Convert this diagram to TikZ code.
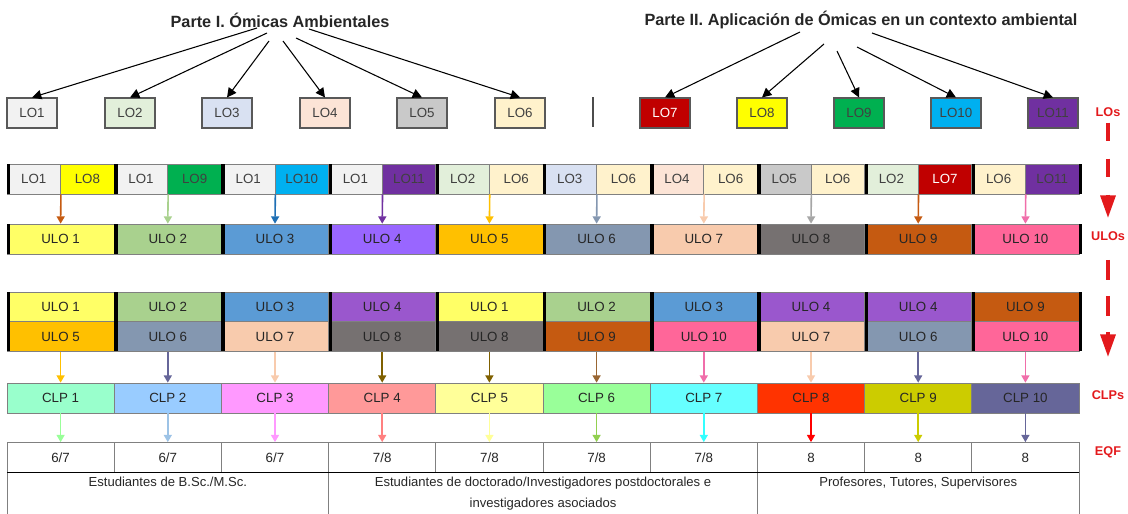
\documentclass[tikz,border=0pt]{standalone}
\usepackage{fontspec}
\setmainfont{Liberation Sans}
\usetikzlibrary{arrows.meta}

\definecolor{txt}{HTML}{404040}
\definecolor{tagred}{HTML}{E3191C}
\definecolor{LO1}{HTML}{F2F2F2}
\definecolor{LO2}{HTML}{E2EFDA}
\definecolor{LO3}{HTML}{D9E1F2}
\definecolor{LO4}{HTML}{FCE4D6}
\definecolor{LO5}{HTML}{C9C9C9}
\definecolor{LO6}{HTML}{FFF2CC}
\definecolor{LO7}{HTML}{C00000}
\definecolor{LO8}{HTML}{FFFF00}
\definecolor{LO9}{HTML}{00B050}
\definecolor{LO10}{HTML}{00B0F0}
\definecolor{LO11}{HTML}{7030A0}
\definecolor{U1}{HTML}{FFFF66}
\definecolor{U2}{HTML}{A9D18E}
\definecolor{U3}{HTML}{5B9BD5}
\definecolor{U4a}{HTML}{9966FF}
\definecolor{U4}{HTML}{9A57CD}
\definecolor{U5}{HTML}{FFC000}
\definecolor{U6}{HTML}{8497B0}
\definecolor{U7}{HTML}{F8CBAD}
\definecolor{U8}{HTML}{767171}
\definecolor{U9}{HTML}{C55A11}
\definecolor{U10}{HTML}{FF6699}
\definecolor{C1}{HTML}{99FFCC}
\definecolor{C2}{HTML}{99CCFF}
\definecolor{C3}{HTML}{FF99FF}
\definecolor{C4}{HTML}{FF9999}
\definecolor{C5}{HTML}{FFFF99}
\definecolor{C6}{HTML}{99FF99}
\definecolor{C7}{HTML}{66FFFF}
\definecolor{C8}{HTML}{FF3300}
\definecolor{C9}{HTML}{CCCC00}
\definecolor{C10}{HTML}{666699}
\definecolor{arBlue}{HTML}{1F6FB4}
\definecolor{arGray}{HTML}{A6A6A6}
\definecolor{arPink}{HTML}{F06EAA}
\definecolor{arOlive}{HTML}{7F6000}
\definecolor{arBrown}{HTML}{996633}
\definecolor{arSky}{HTML}{9DC3E6}
\definecolor{arSalmon}{HTML}{FF8080}
\definecolor{arLeaf}{HTML}{92D050}
\definecolor{arAqua}{HTML}{33FFFF}

\begin{document}
\begin{tikzpicture}[x=0.75pt,y=-0.75pt,
    title/.style={font=\fontsize{12.2}{14}\selectfont\bfseries, text=black!85},
    lobox/.style={draw=black!65, line width=0.8pt, minimum width=37.5pt, minimum height=22.5pt,
        inner sep=0pt, font=\fontsize{10}{12}\selectfont, text=txt},
    cell/.style={draw=black!50, line width=0.5pt, minimum height=22.5pt, inner sep=0pt,
        font=\fontsize{10}{12}\selectfont, text=black!85},
    half/.style={cell, minimum width=40.2pt, text=txt},
    full/.style={cell, minimum width=80.4pt},
    foot/.style={anchor=north, inner sep=0pt, align=center, font=\fontsize{9.8}{15.75}\selectfont, text=black!85},
    tag/.style={font=\fontsize{9.5}{11}\selectfont\bfseries, text=tagred},
    bar/.style={line width=2.6pt},
    toparr/.style={-{Triangle[length=7pt,width=7pt]}, line width=0.8pt},
    down/.style={-{Triangle[length=5.5pt,width=6pt]}, line width=1.2pt},
    flow/.style={color=tagred, line width=3pt, -{Triangle[length=17pt,width=11pt]}}]

\useasboundingbox (0,0) rectangle (1128,514);

\node[title] (p1) at (280,20) {Parte I. Ómicas Ambientales};
\node[title] (p2) at (861,20) {Parte II. Aplicación de Ómicas en un contexto ambiental};

\foreach \i/\x in {1/32,2/130,3/227,4/325,5/422,6/520,7/665,8/762,9/859,10/956,11/1053}
    \node[lobox, fill=LO\i] (lo\i) at (\x,113) {\ifnum\i=7 \color{white}\fi LO\i};

\foreach \i/\sx/\sy in {1/257/28,2/267/33,3/269/41,4/283/41,5/296/38,6/309/29,
                        7/800/32,8/824/44,9/837/51,10/857/47,11/872/33}{
    \coordinate (s\i) at (\sx,\sy);
    \draw[toparr] (s\i) -- (lo\i.north);
}
\draw[black!70, line width=0.8pt] (593,97) -- (593,127);

% LO pairs -> ULOs
\foreach \g/\p/\q in {1/1/8,2/1/9,3/1/10,4/1/11,5/2/6,6/3/6,7/4/6,8/5/6,9/2/7,10/6/11}{
    \pgfmathsetmacro\gx{7+107.2*(\g-1)}
    \node[half, fill=LO\p] (pa\g) at (\gx+26.8,179) {LO\p};
    \node[half, fill=LO\q] (pb\g) at (\gx+80.4,179) {\ifnum\q=7 \color{white}\fi LO\q};
}
\foreach \g/\col in {1/U1,2/U2,3/U3,4/U4a,5/U5,6/U6,7/U7,8/U8,9/U9,10/U10}{
    \pgfmathsetmacro\gx{7+107.2*(\g-1)}
    \node[full, fill=\col] (ulo\g) at (\gx+53.6,239) {ULO \g};
}
\foreach \g/\col in {1/U9,2/U2,3/arBlue,4/LO11,5/U5,6/U6,7/U7,8/arGray,9/U9,10/arPink}
    \draw[down, \col] (pa\g.south east) -- (ulo\g.north);

% ULO pairs -> CLPs -> EQF
\foreach \g/\p/\q in {1/1/5,2/2/6,3/3/7,4/4/8,5/1/8,6/2/9,7/3/10,8/4/7,9/4/6,10/9/10}{
    \pgfmathsetmacro\gx{7+107.2*(\g-1)}
    \node[full, fill=U\p] (ua\g) at (\gx+53.6,307) {ULO \p};
    \node[full, fill=U\q] (ub\g) at (\gx+53.6,336.5) {ULO \q};
}
\foreach \g/\v in {1/6\slash7,2/6\slash7,3/6\slash7,4/7\slash8,5/7\slash8,6/7\slash8,7/7\slash8,8/8,9/8,10/8}{
    \pgfmathsetmacro\gx{7+107.2*(\g-1)}
    \node[full, fill=C\g] (clp\g) at (\gx+53.6,398) {CLP \g};
    \node[full, fill=white] (eqf\g) at (\gx+53.6,457.5) {\v};
}
\foreach \g/\col in {1/U5,2/C10,3/U7,4/arOlive,5/arOlive,6/arBrown,7/arPink,8/U7,9/C10,10/arPink}
    \draw[down, \col] (ub\g.south) -- (clp\g.north);
\foreach \g/\col in {1/C6,2/arSky,3/C3,4/arSalmon,5/C5,6/arLeaf,7/arAqua,8/red,9/C9,10/C10}
    \draw[down, \col] (clp\g.south) -- (eqf\g.north);

\foreach \k in {0,...,10}{
    \pgfmathsetmacro\bx{8.7+107.2*\k}
    \draw[bar] (\bx,164) -- (\bx,194) (\bx,224) -- (\bx,254) (\bx,292) -- (\bx,351);
}

\draw[black!50, line width=0.5pt] (7,472) rectangle (328.6,520) (328.6,472) rectangle (757.4,520)
    (757.4,472) rectangle (1079,520);
\draw[line width=0.6pt] (7,472) -- (1079,472);
\node[foot] (st1) at (167.8,477) {Estudiantes de B.Sc./M.Sc.};
\node[foot] (st2) at (543,477) {Estudiantes de doctorado/Investigadores postdoctorales e\\investigadores asociados};
\node[foot] (st3) at (918.2,477) {Profesores, Tutores, Supervisores};

\node[tag] (tagLO) at (1108,112) {LOs};
\node[tag] (tagULO) at (1108,236) {ULOs};
\node[tag] (tagCLP) at (1108,395) {CLPs};
\node[tag] (tagEQF) at (1108,452) {EQF};
\draw[flow, dash pattern=on 14pt off 13pt, shorten <=1pt, shorten >=6.5pt] (tagLO.south) -- (tagULO.north);
\draw[flow, dash pattern=on 15pt off 12pt, shorten <=11pt, shorten >=21.5pt] (tagULO.south) -- (tagCLP.north);

\end{tikzpicture}
\end{document}
